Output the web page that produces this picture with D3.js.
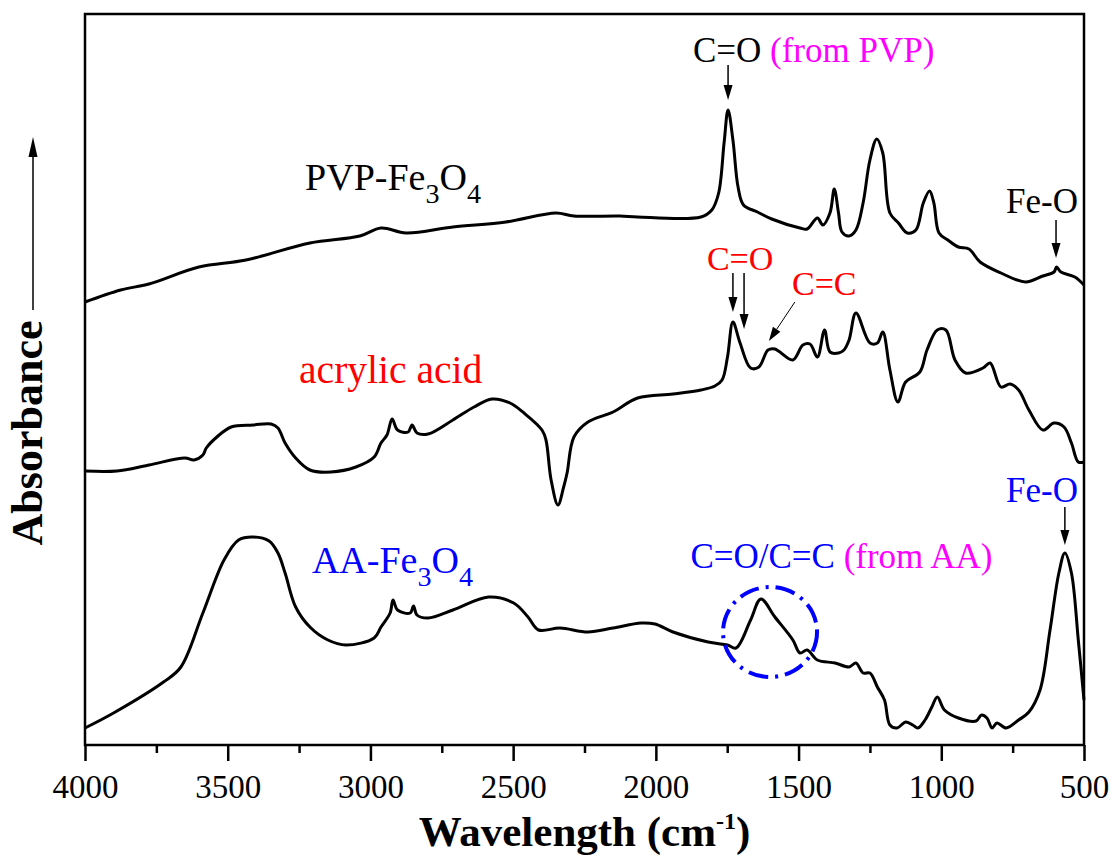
<!DOCTYPE html>
<html>
<head>
<meta charset="utf-8">
<script src="https://cdn.jsdelivr.net/npm/d3@7"></script>
<style>
  body { margin: 0; background: #fff; }
  svg { display: block; }
  text { font-family: "Liberation Serif", "Times New Roman", serif; }
</style>
</head>
<body>
<svg id="chart" width="1113" height="858"></svg>
<script>
// FTIR spectra, [wavenumber (cm-1), absorbance (a.u., offset)]
const pvpFe3O4 = [
  [4000,44.3],[3875,45.5],[3776,46.1],[3601,47.8],[3436,48.5],[3212,50.2],[3037,50.9],
  [2963,51.7],[2875,51.2],[2711,51.8],[2525,52.3],[2350,53.2],[2287,52.9],[2126,52.9],
  [2064,52.8],[1842,52.8],[1804,53.5],[1780,55.2],[1761,60.2],[1747,63.5],[1730,60.5],
  [1712,55.8],[1693,54.0],[1644,53.3],[1594,52.6],[1495,51.7],[1470,51.6],[1434,52.7],
  [1415,52.0],[1390,53.2],[1375,55.6],[1360,53.2],[1348,51.3],[1323,50.9],[1299,51.5],
  [1274,54.2],[1250,58.5],[1226,60.6],[1205,59.2],[1180,53.2],[1150,52.2],[1119,51.2],
  [1089,51.5],[1063,54.2],[1041,55.4],[1026,54.2],[1008,51.2],[977,50.5],[940,49.8],
  [903,49.6],[864,48.3],[791,47.2],[705,46.3],[644,46.9],[605,47.3],[596,47.8],
  [581,47.3],[532,46.8],[500,46.0]
];
const acrylicAcid = [
  [4000,27.4],[3888,27.4],[3776,28.0],[3650,28.7],[3618,28.5],[3587,29.0],[3575,29.7],
  [3538,30.8],[3488,31.8],[3411,32.0],[3348,32.1],[3324,31.7],[3299,30.2],[3262,28.7],
  [3212,27.5],[3138,27.3],[3051,27.8],[2987,28.8],[2963,30.2],[2942,31.0],[2924,32.6],
  [2905,31.5],[2868,31.3],[2854,32.0],[2837,31.2],[2798,31.1],[2711,32.5],[2637,33.8],
  [2574,34.6],[2511,34.2],[2462,33.2],[2399,31.5],[2385,30.5],[2367,26.5],[2343,24.0],
  [2323,25.8],[2311,27.2],[2287,30.8],[2238,32.3],[2150,33.3],[2064,34.7],[1940,35.1],
  [1842,35.5],[1793,35.9],[1768,36.5],[1749,38.8],[1730,42.3],[1705,40.2],[1668,37.7],
  [1639,37.8],[1607,39.5],[1583,39.6],[1520,38.5],[1485,40.0],[1460,40.1],[1434,38.8],
  [1409,41.5],[1390,39.3],[1360,39.2],[1341,39.5],[1323,40.5],[1299,43.2],[1250,40.2],
  [1224,40.2],[1205,41.3],[1180,37.5],[1152,34.3],[1125,36.3],[1075,37.3],[1050,39.5],
  [1014,41.5],[984,41.5],[952,38.5],[915,37.2],[854,37.7],[829,38.2],[791,35.8],
  [759,36.1],[729,35.5],[693,33.5],[644,31.5],[605,32.2],[570,31.8],[544,30.2],
  [520,28.3],[500,28.3]
];
const aaFe3O4 = [
  [4000,1.7],[3900,3.2],[3725,6.3],[3664,7.8],[3587,13.2],[3513,18.5],[3462,20.5],
  [3411,20.8],[3355,20.4],[3324,19.2],[3299,17.2],[3262,13.8],[3212,11.8],[3149,10.5],
  [3086,10.0],[2987,10.7],[2963,11.8],[2931,13.2],[2921,14.5],[2905,13.5],[2861,13.2],
  [2849,13.9],[2837,13.0],[2798,12.7],[2711,13.5],[2586,14.8],[2498,14.2],[2448,12.8],
  [2411,11.5],[2336,11.7],[2238,11.3],[2150,11.7],[2052,12.2],[2003,12.1],[1940,11.3],
  [1817,10.3],[1749,10.0],[1719,9.7],[1668,12.5],[1632,14.6],[1583,12.8],[1520,10.5],
  [1495,9.2],[1470,9.5],[1434,8.5],[1372,8.2],[1323,7.8],[1299,8.2],[1274,7.2],
  [1250,7.2],[1224,5.8],[1199,4.5],[1180,2.0],[1155,1.7],[1125,2.3],[1100,2.0],
  [1082,1.7],[1057,2.5],[1033,3.8],[1014,4.8],[989,3.5],[940,2.7],[878,2.4],
  [859,3.0],[840,2.7],[822,1.7],[805,2.2],[773,1.7],[729,2.5],[693,3.3],[654,5.5],
  [619,11.5],[588,17.2],[567,19.2],[544,17.2],[520,10.5],[500,4.5]
];
const xTicks = [4000, 3500, 3000, 2500, 2000, 1500, 1000, 500];
const xMinorTicks = [3750, 3250, 2750, 2250, 1750, 1250, 750];

const width = 1113, height = 858;
const margin = { top: 14, right: 29, bottom: 113, left: 85 };
const RED = "#ff0000", BLUE = "#0000ff", MAGENTA = "#ff00ff";

const svg = d3.select("#chart");

const x = d3.scaleLinear().domain([4000, 500]).range([margin.left, width - margin.right]);
const y = d3.scaleLinear().domain([0, 73.1]).range([height - margin.bottom, margin.top]);

const line = d3.line()
  .x(d => x(d[0]))
  .y(d => y(d[1]))
  .curve(d3.curveCatmullRom.alpha(0.5));

[pvpFe3O4, acrylicAcid, aaFe3O4].forEach(s => {
  svg.append("path")
    .datum(s)
    .attr("d", line)
    .attr("fill", "none")
    .attr("stroke", "#000")
    .attr("stroke-width", 3)
    .attr("stroke-linejoin", "round");
});

// frame
svg.append("rect")
  .attr("x", x(4000)).attr("y", y.range()[1])
  .attr("width", x(500) - x(4000))
  .attr("height", y.range()[0] - y.range()[1])
  .attr("fill", "none").attr("stroke", "#000").attr("stroke-width", 2.5);

// bottom axis
const gx = svg.append("g")
  .attr("transform", `translate(0,${y(0)})`)
  .call(d3.axisBottom(x).tickValues(xTicks).tickSize(16).tickFormat(d3.format("d")));
gx.attr("font-family", "Liberation Serif").attr("font-size", 33);
gx.select(".domain").remove();
gx.selectAll(".tick line").attr("stroke-width", 2.5);
gx.selectAll(".tick text").attr("y", 53).attr("dy", null).attr("fill", "#000");

const gxm = svg.append("g")
  .attr("transform", `translate(0,${y(0)})`)
  .call(d3.axisBottom(x).tickValues(xMinorTicks).tickSize(8).tickFormat(""));
gxm.select(".domain").remove();
gxm.selectAll(".tick line").attr("stroke-width", 2.5);

// axis titles
const xt = svg.append("text")
  .attr("x", (x(4000) + x(500)) / 2).attr("y", 846)
  .attr("text-anchor", "middle")
  .attr("font-weight", "bold").attr("font-size", 43);
xt.append("tspan").text("Wavelength (cm");
xt.append("tspan").attr("font-size", 24).attr("dy", -17).text("-1");
xt.append("tspan").attr("dy", 17).text(")");

svg.append("text")
  .attr("transform", "translate(42,433) rotate(-90)")
  .attr("text-anchor", "middle")
  .attr("font-weight", "bold").attr("font-size", 44)
  .text("Absorbance");

function arrow(x1, y1, x2, y2, len, wid, sw) {
  const dx = x2 - x1, dy = y2 - y1, d = Math.hypot(dx, dy);
  const ux = dx / d, uy = dy / d;
  const bx = x2 - ux * len, by = y2 - uy * len;
  svg.append("line")
    .attr("x1", x1).attr("y1", y1).attr("x2", bx).attr("y2", by)
    .attr("stroke", "#000").attr("stroke-width", sw);
  svg.append("path")
    .attr("d", `M${x2},${y2}L${bx - uy * wid / 2},${by + ux * wid / 2}L${bx + uy * wid / 2},${by - ux * wid / 2}Z`)
    .attr("fill", "#000");
}

arrow(33, 310, 33, 137, 20, 9, 1.5);

function label(w, a, size, parts) {
  const t = svg.append("text").attr("x", x(w)).attr("y", y(a)).attr("font-size", size);
  parts.forEach(p => {
    const ts = t.append("tspan").text(p.t).attr("fill", p.c || "#000");
    if (p.sub) ts.attr("font-size", size * 0.74).attr("dy", 13);
    if (p.back) ts.attr("dy", -13);
  });
  return t;
}

// sample labels
label(3229, 55.5, 38, [{ t: "PVP-Fe" }, { t: "3", sub: true }, { t: "O", back: true }, { t: "4", sub: true }]);
label(3250, 36.2, 39.5, [{ t: "acrylic acid", c: RED }]);
label(3205, 17.2, 38, [{ t: "AA-Fe", c: BLUE }, { t: "3", c: BLUE, sub: true }, { t: "O", c: BLUE, back: true }, { t: "4", c: BLUE, sub: true }]);

// band annotations
label(1870, 68.3, 35, [{ t: "C=O " }, { t: "(from PVP)", c: MAGENTA }]);
arrow(x(1747), y(68.0), x(1747), y(64.5), 15, 9, 1.5);

label(773, 53.2, 35, [{ t: "Fe-O" }]);
arrow(x(598), y(52.5), x(598), y(48.7), 15, 9, 1.5);

label(1821, 47.5, 34, [{ t: "C=O", c: RED }]);
arrow(x(1730), y(47.2), x(1730), y(43.3), 15, 9, 1.5);
arrow(x(1691), y(47.2), x(1691), y(41.6), 15, 9, 1.5);

label(1523, 45.0, 34, [{ t: "C=C", c: RED }]);
arrow(x(1513), y(44.3), x(1604), y(40.4), 14, 9, 1);

label(1879, 17.7, 35, [{ t: "C=O/C=C ", c: BLUE }, { t: "(from AA)", c: MAGENTA }]);
svg.append("ellipse")
  .attr("cx", x(1600)).attr("cy", y(11.3))
  .attr("rx", 47).attr("ry", 45)
  .attr("fill", "none").attr("stroke", BLUE).attr("stroke-width", 4)
  .attr("stroke-dasharray", "20,7,3,7");

label(773, 24.3, 35, [{ t: "Fe-O", c: BLUE }]);
arrow(x(567), y(23.8), x(567), y(20.0), 15, 9, 1.5);
</script>
</body>
</html>
